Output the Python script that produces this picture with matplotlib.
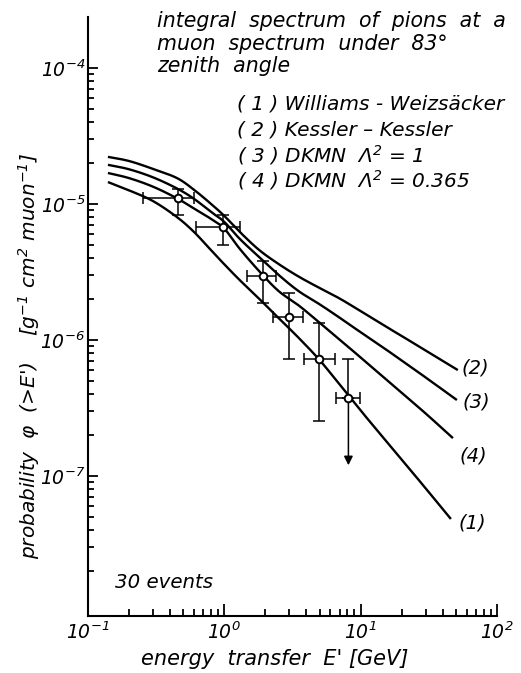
import numpy as np
import matplotlib
matplotlib.use('Agg')
import matplotlib.pyplot as plt
from matplotlib.ticker import FixedLocator, LogLocator, NullFormatter

plt.rcParams['font.family'] = ['DejaVu Sans']
plt.rcParams['font.style'] = 'italic'
plt.rcParams['mathtext.default'] = 'it'
plt.rcParams['axes.unicode_minus'] = False

# theory curves (E' in GeV, phi in g^-1 cm^2 muon^-1)
energy_grid = [0.14, 0.2, 0.3, 0.45, 0.6, 0.8, 1.0, 1.3, 1.8, 2.5, 3.5, 5.0, 7.0, 10.0, 15.0, 20.0, 30.0]

curve2_E = energy_grid + [51.6]
curve2_phi = [2.22e-5, 2.07e-5, 1.81e-5, 1.55e-5, 1.27e-5, 1.00e-5, 8.17e-6, 6.22e-6, 4.59e-6,
              3.62e-6, 2.93e-6, 2.41e-6, 2.02e-6, 1.63e-6, 1.27e-6, 1.07e-6, 8.36e-7, 6.01e-7]

curve3_E = energy_grid + [50.8]
curve3_phi = [1.94e-5, 1.80e-5, 1.57e-5, 1.30e-5, 1.09e-5, 8.73e-6, 7.38e-6, 5.53e-6, 4.07e-6,
              3.01e-6, 2.29e-6, 1.83e-6, 1.46e-6, 1.14e-6, 8.65e-7, 7.06e-7, 5.30e-7, 3.62e-7]

curve4_E = energy_grid + [47.5]
curve4_phi = [1.69e-5, 1.55e-5, 1.34e-5, 1.10e-5, 9.25e-6, 7.76e-6, 6.58e-6, 4.67e-6, 3.21e-6,
              2.29e-6, 1.80e-6, 1.34e-6, 1.01e-6, 7.43e-7, 5.23e-7, 4.09e-7, 2.88e-7, 1.90e-7]

curve1_E = energy_grid + [45.9]
curve1_phi = [1.45e-5, 1.26e-5, 1.05e-5, 8.00e-6, 6.22e-6, 4.57e-6, 3.60e-6, 2.75e-6, 2.01e-6,
              1.45e-6, 1.04e-6, 7.12e-7, 4.71e-7, 3.03e-7, 1.86e-7, 1.32e-7, 8.11e-8, 4.83e-8]

curve_labels = ['(2)', '(3)', '(4)', '(1)']

# measured points (last one is an upper limit)
pts_E = [0.454, 0.972, 1.91, 2.97, 4.93, 8.13]
pts_E_lo = [0.252, 0.622, 1.47, 2.28, 3.83, 6.55]
pts_E_hi = [0.601, 1.31, 2.41, 3.75, 6.44, 9.84]
pts_phi = [1.10e-5, 6.8e-6, 2.97e-6, 1.48e-6, 7.24e-7, 3.77e-7]
pts_phi_lo = [8.3e-6, 5.0e-6, 1.88e-6, 7.3e-7, 2.55e-7, 1.2e-7]
pts_phi_hi = [1.28e-5, 8.3e-6, 3.83e-6, 2.2e-6, 1.33e-6, 7.3e-7]

title_lines = ['integral  spectrum  of  pions  at  a',
               'muon  spectrum  under  83°',
               'zenith  angle']
legend_lines = ['( 1 ) Williams - Weizsäcker',
                '( 2 ) Kessler – Kessler',
                '( 3 ) DKMN  Λ$^2$ = 1',
                '( 4 ) DKMN  Λ$^2$ = 0.365']


def smooth(xs, ys, n=20):
    # catmull-rom through the points in log-log space
    lx = np.log10(xs)
    ly = np.log10(ys)
    px = np.concatenate([[2 * lx[0] - lx[1]], lx, [2 * lx[-1] - lx[-2]]])
    py = np.concatenate([[2 * ly[0] - ly[1]], ly, [2 * ly[-1] - ly[-2]]])
    outx, outy = [], []
    t = np.linspace(0, 1, n, endpoint=False)
    for i in range(1, len(px) - 2):
        for arr, out in ((px, outx), (py, outy)):
            p0, p1, p2, p3 = arr[i - 1], arr[i], arr[i + 1], arr[i + 2]
            out.extend(0.5 * (2 * p1 + (-p0 + p2) * t + (2 * p0 - 5 * p1 + 4 * p2 - p3) * t ** 2
                              + (-p0 + 3 * p1 - 3 * p2 + p3) * t ** 3))
    outx.append(lx[-1])
    outy.append(ly[-1])
    return 10 ** np.array(outx), 10 ** np.array(outy)


W, H = 521, 673
fig = plt.figure(figsize=(W / 100, H / 100), dpi=100)
ax = fig.add_axes([88 / W, 1 - 616 / H, (497 - 88) / W, (616 - 17) / H])
ax.set_xscale('log')
ax.set_yscale('log')
ax.set_xlim(0.1, 100)
ax.set_ylim(9.35e-9, 2.37e-4)

curves = [(curve2_E, curve2_phi), (curve3_E, curve3_phi), (curve4_E, curve4_phi), (curve1_E, curve1_phi)]
label_pos = [(475, 368), (476, 402), (473, 456), (472, 523)]
for (ce, cp), lab, (lx, ly) in zip(curves, curve_labels, label_pos):
    sx, sy = smooth(ce, cp)
    ax.plot(sx, sy, color='black', lw=1.7, solid_capstyle='butt')
    fig.text(lx / W, 1 - ly / H, lab, fontsize=14, ha='center', va='center')

E = np.array(pts_E)
P = np.array(pts_phi)
xerr = [E - np.array(pts_E_lo), np.array(pts_E_hi) - E]
yerr = [P - np.array(pts_phi_lo), np.array(pts_phi_hi) - P]
ax.errorbar(E[:-1], P[:-1], xerr=[xerr[0][:-1], xerr[1][:-1]], yerr=[yerr[0][:-1], yerr[1][:-1]],
            fmt='none', ecolor='black', elinewidth=1.1, capsize=4, capthick=1.1)
ax.errorbar(E[-1:], P[-1:], xerr=[xerr[0][-1:], xerr[1][-1:]], yerr=[[0], yerr[1][-1:]],
            fmt='none', ecolor='black', elinewidth=1.1, capsize=4, capthick=1.1)
ax.annotate('', xy=(E[-1], pts_phi_lo[-1]), xytext=(E[-1], P[-1]),
            arrowprops=dict(arrowstyle='-|>', color='black', lw=1.1, mutation_scale=13,
                            shrinkA=0, shrinkB=0))
ax.plot(E, P, 'o', ms=5.5, mfc='white', mec='black', mew=1.4, zorder=5)

for s in ['top', 'right']:
    ax.spines[s].set_visible(False)
for s in ['left', 'bottom']:
    ax.spines[s].set_linewidth(1.5)

ax.xaxis.set_major_locator(FixedLocator([0.1, 1, 10, 100]))
ax.xaxis.set_minor_locator(LogLocator(base=10, subs=np.arange(2, 10)))
ax.xaxis.set_minor_formatter(NullFormatter())
ax.yaxis.set_major_locator(FixedLocator([1e-7, 1e-6, 1e-5, 1e-4]))
ax.yaxis.set_minor_locator(FixedLocator([m * 10.0 ** d for d in range(-8, -4) for m in range(2, 10)]))
ax.yaxis.set_minor_formatter(NullFormatter())

ax.tick_params(which='both', direction='in', width=1.3, labelsize=13.5)
ax.tick_params(axis='x', which='major', length=9, pad=4)
ax.tick_params(axis='x', which='minor', length=5)
ax.tick_params(axis='y', which='major', length=7.5, pad=2)
ax.tick_params(axis='y', which='minor', length=4.5)

for i, line in enumerate(title_lines):
    fig.text(157 / W, 1 - (21 + 22.5 * i) / H, line, fontsize=14.8, ha='left', va='center')
for i, line in enumerate(legend_lines):
    fig.text(237 / W, 1 - (104 + 25.5 * i) / H, line, fontsize=14.5, ha='left', va='center')

fig.text(115 / W, 1 - 582 / H, '30 events', fontsize=14.2, ha='left', va='center')
fig.text(275 / W, 1 - 659 / H, "energy  transfer  E' [GeV]", fontsize=15, ha='center', va='center')
fig.text(29 / W, 1 - 356 / H, "probability  φ  (>E')    [g$^{-1}$ cm$^2$ muon$^{-1}$]",
         fontsize=14.5, ha='center', va='center', rotation=90)

fig.savefig('out.png', dpi=100)
